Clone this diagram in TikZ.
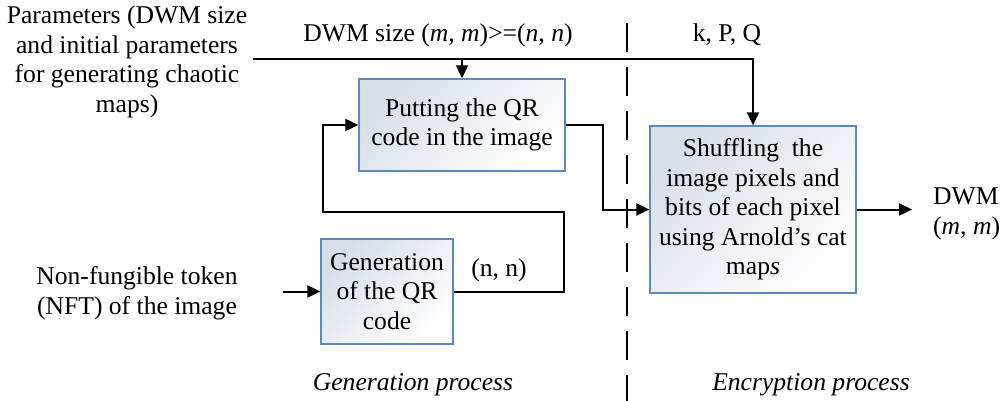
\documentclass[tikz,border=0pt]{standalone}
\usepackage{fontspec}
\setmainfont{Liberation Serif}
\usetikzlibrary{arrows.meta}
\definecolor{boxblue}{HTML}{5B8AC0}
\definecolor{boxshade}{HTML}{D8DEE8}
\begin{document}
\begin{tikzpicture}[x=1pt,y=-1pt,
  txt/.style={font=\fontsize{25.6}{29.5}\selectfont, inner sep=0pt, align=center},
  procbox/.style={txt, draw=boxblue, line width=1.3pt,
    top color=boxshade, bottom color=white, shading angle=45},
  conn/.style={line width=2pt, -{Triangle[length=13pt,width=12pt]}},
  divider/.style={line width=2pt, dash pattern=on 29pt off 15pt}]
\useasboundingbox (0,0) rectangle (1003,401);

% process boxes
\node[procbox, minimum width=206pt, minimum height=92pt] (put) at (462,125)
  {Putting the QR\\code in the image};
\node[procbox, minimum width=132pt, minimum height=105pt] (gen) at (387,291.5)
  {Generation\\of the QR\\code};
\node[procbox, minimum width=206pt, minimum height=167pt] (shuf) at (753,209.5)
  {Shuffling\ \ the\\image pixels and\\bits of each pixel\\using Arnold's cat\\map\textit{s}};

% free labels
\node[txt] (params) at (127,62) {Parameters (DWM size\\and initial parameters\\for generating chaotic\\maps)};
\node[txt] (sizelbl) at (438,35) {DWM size (\textit{m}, \textit{m})>=(\textit{n}, \textit{n})};
\node[txt] (kpq) at (727,35) {k, P, Q};
\node[txt] (nft) at (137,293) {Non-fungible token\\(NFT) of the image};
\node[txt] (nn) at (499,270) {(n, n)};
\node[txt, anchor=west, align=left] (dwm) at (933,214) {DWM\\(\textit{m}, \textit{m})};
\node[txt] (genp) at (413,385) {\textit{Generation process}};
\node[txt] (encp) at (811,385) {\textit{Encryption process}};

% connector end points
\coordinate (pin) at (253,59);
\coordinate (nftin) at (283,291.5);
\coordinate (out) at (912,209.5);

% connectors
\draw[conn] (pin) -| (shuf.north);
\draw[conn] (put.north |- pin) -- (put.north);
\draw[conn] (nftin) -- (gen.west);
\draw[conn] (gen.east) -| (564,212) -| (323,125) -- (put.west);
\draw[conn] (put.east) -| (603,209.5) -- (shuf.west);
\draw[conn] (shuf.east) -- (out);

% phase divider
\draw[divider] (627,23) -- (627,401);
\end{tikzpicture}
\end{document}
